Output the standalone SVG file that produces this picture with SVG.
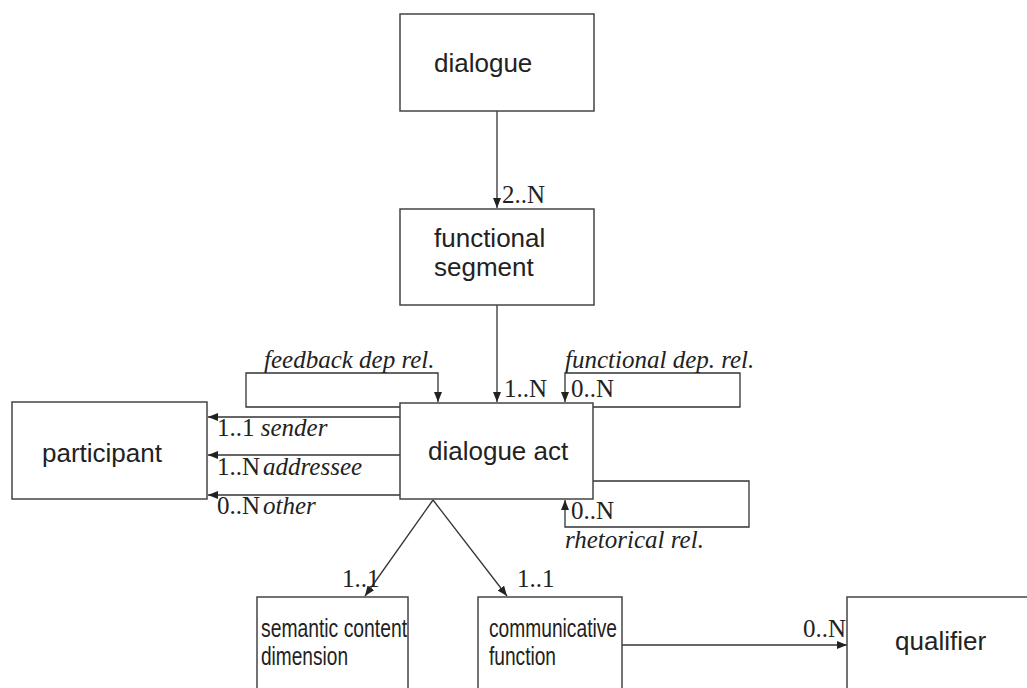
<svg xmlns="http://www.w3.org/2000/svg" width="1027" height="688" viewBox="0 0 1027 688">
<style>
.box{fill:#fff;stroke:#444;stroke-width:1.5}
.lbl{font-family:"Liberation Sans",Arial,sans-serif;font-size:26px;fill:#222}
.sm{font-size:25px}
.m{font-family:"Liberation Serif","Times New Roman",serif;font-size:25px;fill:#222}
.i{font-style:italic}
.c{fill:none;stroke:#333;stroke-width:1.3}
</style>
<defs>
<marker id="ah" viewBox="0 0 10 8" refX="10" refY="4" markerWidth="10" markerHeight="8" markerUnits="userSpaceOnUse" orient="auto">
<path d="M0,0 L10,4 L0,8 z" fill="#222"/>
</marker>
</defs>
<rect x="0" y="0" width="1027" height="688" fill="#fff"/>
<g id="connectors">
<line class="c" x1="497" y1="111" x2="497" y2="208" marker-end="url(#ah)"/>
<line class="c" x1="497" y1="305" x2="497" y2="402" marker-end="url(#ah)"/>
<polyline class="c" points="400,407 246,407 246,373 438,373 438,402" marker-end="url(#ah)"/>
<polyline class="c" points="593,407 740,407 740,373 565,373 565,402" marker-end="url(#ah)"/>
<polyline class="c" points="593,481 749,481 749,527 565,527 565,500" marker-end="url(#ah)"/>
<line class="c" x1="400" y1="417" x2="208" y2="417" marker-end="url(#ah)"/>
<line class="c" x1="400" y1="455" x2="208" y2="455" marker-end="url(#ah)"/>
<line class="c" x1="400" y1="495" x2="208" y2="495" marker-end="url(#ah)"/>
<line class="c" x1="433" y1="500" x2="365" y2="596" marker-end="url(#ah)"/>
<line class="c" x1="433" y1="500" x2="507" y2="596" marker-end="url(#ah)"/>
<line class="c" x1="622" y1="645" x2="847" y2="645" marker-end="url(#ah)"/>
<text class="m" x="502" y="203">2..N</text>
<text class="m" x="504" y="397">1..N</text>
<text class="m i" x="264" y="368">feedback dep rel.</text>
<text class="m i" x="565" y="368">functional dep. rel.</text>
<text class="m" x="571" y="397">0..N</text>
<text class="m" x="571" y="519">0..N</text>
<text class="m i" x="565" y="548">rhetorical rel.</text>
<text class="m" x="217" y="436">1..1 <tspan class="i">sender</tspan></text>
<text class="m" x="217" y="475">1..N<tspan class="i" dx="3">addressee</tspan></text>
<text class="m" x="217" y="514">0..N<tspan class="i" dx="3">other</tspan></text>
<text class="m" x="342" y="587">1..1</text>
<text class="m" x="517" y="587">1..1</text>
<text class="m" x="803" y="637">0..N</text>
</g>
<g id="dialogue">
<rect class="box" x="400" y="14" width="194" height="97"/>
<text class="lbl" x="434" y="72">dialogue</text>
</g>
<g id="functional-segment">
<rect class="box" x="400" y="209" width="194" height="96"/>
<text class="lbl" x="434" y="247">functional</text>
<text class="lbl" x="434" y="276">segment</text>
</g>
<g id="dialogue-act">
<rect class="box" x="400" y="403" width="193" height="96"/>
<text class="lbl" x="428" y="460">dialogue act</text>
</g>
<g id="participant">
<rect class="box" x="12" y="402" width="195" height="97"/>
<text class="lbl" x="42" y="462">participant</text>
</g>
<g id="semantic-content-dimension">
<rect class="box" x="257" y="597" width="151" height="120"/>
<text class="lbl sm" x="261" y="637" textLength="146" lengthAdjust="spacingAndGlyphs">semantic content</text>
<text class="lbl sm" x="261" y="665" textLength="87" lengthAdjust="spacingAndGlyphs">dimension</text>
</g>
<g id="communicative-function">
<rect class="box" x="478" y="597" width="144" height="120"/>
<text class="lbl sm" x="489" y="637" textLength="128" lengthAdjust="spacingAndGlyphs">communicative</text>
<text class="lbl sm" x="489" y="665" textLength="67" lengthAdjust="spacingAndGlyphs">function</text>
</g>
<g id="qualifier">
<rect class="box" x="847" y="597" width="200" height="120"/>
<text class="lbl" x="895" y="650">qualifier</text>
</g>
</svg>
